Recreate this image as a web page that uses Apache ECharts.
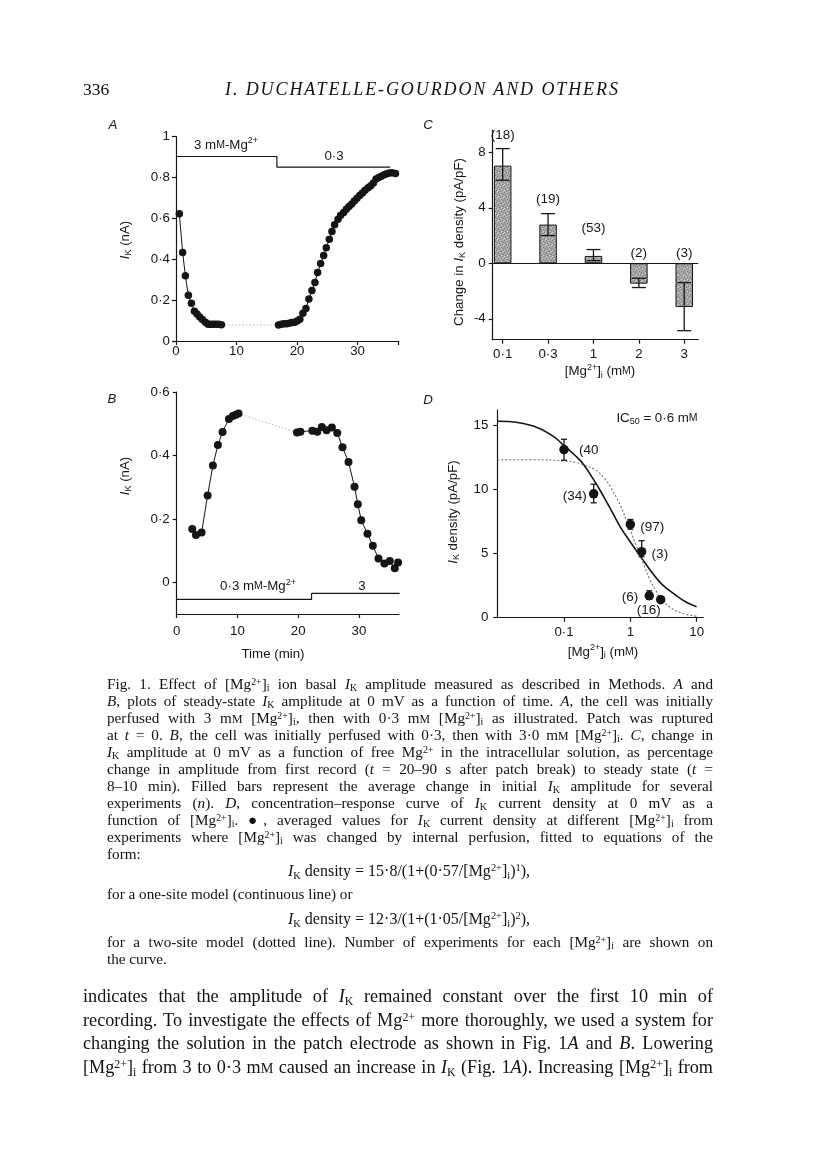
<!DOCTYPE html>
<html><head><meta charset="utf-8">
<script src="https://cdn.jsdelivr.net/npm/echarts/dist/echarts.min.js"></script>
<style>
html,body{margin:0;padding:0;background:#fff;}
body{width:816px;height:1166px;position:relative;overflow:hidden;}
#c{position:absolute;left:0;top:0;width:816px;height:1166px;}
.t{position:absolute;font-family:"Liberation Serif","Times New Roman",serif;color:#111;}
.cap{left:107px;width:606px;font-size:15.2px;line-height:17px;}
.eq{font-size:16px;}
.body{left:83px;width:630px;font-size:18.2px;line-height:23px;}
.j{text-align:justify;text-align-last:justify;}
sup,sub{font-size:65%;line-height:0;}
sup{vertical-align:0.45em;}
sub{vertical-align:-0.25em;}
.sc{font-size:78%;}
</style></head>
<body>
<div id="c"></div>
<div class="t" style="left:83px;top:78px;font-size:17.5px;line-height:22px;">336</div>
<div class="t" style="left:225px;top:78px;font-size:18px;line-height:22px;font-style:italic;letter-spacing:1.9px;">I. DUCHATELLE-GOURDON AND OTHERS</div>

<div class="t cap j" style="top:674.5px">Fig. 1. Effect of [Mg<sup>2+</sup>]<sub>i</sub> ion basal <i>I</i><sub>K</sub> amplitude measured as described in Methods. <i>A</i> and</div>
<div class="t cap j" style="top:691.5px"><i>B</i>, plots of steady-state <i>I</i><sub>K</sub> amplitude at 0 mV as a function of time. <i>A</i>, the cell was initially</div>
<div class="t cap j" style="top:708.5px">perfused with 3 m<span class="sc">M</span> [Mg<sup>2+</sup>]<sub>i</sub>, then with 0·3 m<span class="sc">M</span> [Mg<sup>2+</sup>]<sub>i</sub> as illustrated. Patch was ruptured</div>
<div class="t cap j" style="top:725.5px">at <i>t</i> = 0. <i>B</i>, the cell was initially perfused with 0·3, then with 3·0 m<span class="sc">M</span> [Mg<sup>2+</sup>]<sub>i</sub>. <i>C</i>, change in</div>
<div class="t cap j" style="top:742.5px"><i>I</i><sub>K</sub> amplitude at 0 mV as a function of free Mg<sup>2+</sup> in the intracellular solution, as percentage</div>
<div class="t cap j" style="top:759.5px">change in amplitude from first record (<i>t</i> = 20–90 s after patch break) to steady state (<i>t</i> =</div>
<div class="t cap j" style="top:776.5px">8–10 min). Filled bars represent the average change in initial <i>I</i><sub>K</sub> amplitude for several</div>
<div class="t cap j" style="top:793.5px">experiments (<i>n</i>). <i>D</i>, concentration–response curve of <i>I</i><sub>K</sub> current density at 0 mV as a</div>
<div class="t cap j" style="top:810.5px">function of [Mg<sup>2+</sup>]<sub>i</sub>. ●, averaged values for <i>I</i><sub>K</sub> current density at different [Mg<sup>2+</sup>]<sub>i</sub> from</div>
<div class="t cap j" style="top:827.5px">experiments where [Mg<sup>2+</sup>]<sub>i</sub> was changed by internal perfusion, fitted to equations of the</div>
<div class="t cap" style="top:844.5px">form:</div>
<div class="t cap eq" style="top:861.5px;left:288px;width:auto;white-space:nowrap"><i>I</i><sub>K</sub> density = 15·8/(1+(0·57/[Mg<sup>2+</sup>]<sub>i</sub>)<sup>1</sup>),</div>
<div class="t cap" style="top:884.5px">for a one-site model (continuous line) or</div>
<div class="t cap eq" style="top:909.5px;left:288px;width:auto;white-space:nowrap"><i>I</i><sub>K</sub> density = 12·3/(1+(1·05/[Mg<sup>2+</sup>]<sub>i</sub>)<sup>2</sup>),</div>
<div class="t cap j" style="top:932.5px">for a two-site model (dotted line). Number of experiments for each [Mg<sup>2+</sup>]<sub>i</sub> are shown on</div>
<div class="t cap" style="top:949.5px">the curve.</div>

<div class="t body j" style="top:984.5px">indicates that the amplitude of <i>I</i><sub>K</sub> remained constant over the first 10 min of</div>
<div class="t body j" style="top:1008.5px">recording. To investigate the effects of Mg<sup>2+</sup> more thoroughly, we used a system for</div>
<div class="t body j" style="top:1031.5px">changing the solution in the patch electrode as shown in Fig. 1<i>A</i> and <i>B</i>. Lowering</div>
<div class="t body j" style="top:1055.5px">[Mg<sup>2+</sup>]<sub>i</sub> from 3 to 0·3 m<span class="sc">M</span> caused an increase in <i>I</i><sub>K</sub> (Fig. 1<i>A</i>). Increasing [Mg<sup>2+</sup>]<sub>i</sub> from</div>

<script>
// ---------------- DATA ----------------
// Panel A: I_K (nA) vs time (min)
const aTime1 = [0.55,1.1,1.55,2.04,2.54,3.04,3.48,3.92,4.36,4.86,5.3,5.74,6.18,6.62,7.06,7.5];
const aIk1   = [0.623,0.433,0.319,0.224,0.185,0.146,0.132,0.118,0.105,0.092,0.082,0.082,0.082,0.082,0.082,0.079];
const aTime2 = [16.94,17.38,17.83,18.27,18.71,19.15,19.59,20.03,20.47,20.97,21.47,21.96,22.46,22.96,23.4,23.9,24.4,24.83,25.33,25.77,26.21,26.77,27.21,27.7,28.15,28.59,29.03,29.47,29.91,30.35,30.8,31.24,31.74,32.18,32.62,33.06,33.5,33.94,34.38,34.82,35.27,35.7,36.26];
const aIk2   = [0.078,0.082,0.084,0.085,0.087,0.090,0.092,0.098,0.106,0.136,0.159,0.206,0.247,0.286,0.335,0.379,0.418,0.457,0.498,0.536,0.569,0.596,0.616,0.629,0.645,0.658,0.670,0.685,0.699,0.712,0.724,0.738,0.750,0.760,0.773,0.793,0.800,0.807,0.814,0.819,0.822,0.824,0.820];
const aPerfTime = [0, 16.67, 16.67, 35.4];
const aPerfLevel = [0.903, 0.903, 0.851, 0.851];
const aTicksX = [0, 10, 20, 30];
const aTicksY = [0, 0.2, 0.4, 0.6, 0.8, 1];

// Panel B
const bTime1 = [2.56,3.17,4.1,5.09,5.96,6.78,7.55,8.59,9.24,9.74,10.18];
const bIk1   = [0.168,0.149,0.157,0.274,0.368,0.433,0.474,0.515,0.524,0.528,0.532];
const bTime2 = [19.8,20.36,22.33,23.15,23.9,24.68,25.55,26.43,27.3,28.29,29.28,29.82,30.38,31.41,32.29,33.22,34.2,35.08,35.9,36.45];
const bIk2   = [0.472,0.475,0.478,0.475,0.49,0.479,0.488,0.471,0.426,0.379,0.301,0.246,0.196,0.153,0.115,0.075,0.059,0.067,0.044,0.062];
const bPerfTime = [0, 22.2, 22.2, 36.7];
const bPerfLevel = [-0.054, -0.054, -0.035, -0.035];
const bTicksX = [0, 10, 20, 30];
const bTicksY = [0, 0.2, 0.4, 0.6];

// Panel C: change in I_K density vs [Mg2+]i
const cCategories = ['0·1', '0·3', '1', '2', '3'];
const cMean = [7.04, 2.79, 0.53, -1.47, -3.15];
const cErrLow = [5.99, 2.0, 0.19, -1.75, -4.86];
const cErrHigh = [8.27, 3.58, 0.99, -1.08, -1.39];
const cN = ['(18)', '(19)', '(53)', '(2)', '(3)'];
const cTicksY = [-4, 0, 4, 8];

// Panel D: I_K density vs [Mg2+]i (log)
const dMg = [0.1, 0.28, 1.0, 1.48, 1.93, 2.87];
const dDensity = [13.1, 9.65, 7.27, 5.14, 1.71, 1.40];
const dErrLow = [12.27, 8.95, 6.9, 4.75, 1.43, 1.40];
const dErrHigh = [13.9, 10.4, 7.65, 6.0, 2.1, 1.40];
const dN = ['(40', '(34)', '(97)', '(3)', '(6)', '(16)'];
const dOneSiteX = [0.0099, 0.02, 0.04, 0.07, 0.1, 0.15, 0.2, 0.3, 0.4, 0.5, 0.7, 1.0, 1.5, 2, 3, 5, 7, 10];
const dOneSiteY = [15.3, 15.2, 14.8, 14.1, 13.4, 12.6, 11.9, 10.5, 9.4, 8.5, 7.1, 5.9, 4.6, 3.7, 2.6, 1.7, 1.2, 0.85];
const dTwoSiteX = [0.0099, 0.05, 0.1, 0.15, 0.2, 0.3, 0.4, 0.5, 0.7, 1.0, 1.3, 1.6, 2, 2.5, 3, 4, 5, 7, 10];
const dTwoSiteY = [12.3, 12.3, 12.2, 12.1, 11.9, 11.5, 10.9, 10.2, 8.8, 6.8, 5.3, 4.1, 2.9, 2.0, 1.35, 0.8, 0.5, 0.25, 0.12];
const dTicksX = [0.1, 1, 10];
const dTicksY = [0, 5, 10, 15];

// ---------------- STYLE / LAYOUT ----------------
const SANS = '"Liberation Sans", Arial, Helvetica, sans-serif';
const INK = '#151515';
const zip = (a, b) => a.map((v, i) => [v, b[i]]);
const fmt = v => (+(+v).toFixed(3)).toString().replace('.', '·');
const cLabelOffset = [13.5, 14.6, 21.6, 10, 10];
const dLabelOffset = [[15, 1, 'left'], [-7, 2, 'right'], [10, 3, 'left'], [10, 3, 'left'], [-11, 2, 'right'], [-12, 11, 'center']];

const FS = 13.3;
const rich = {
  n: {fontFamily: SANS, fontSize: FS, fill: INK, color: INK, lineHeight: 17},
  it: {fontFamily: SANS, fontSize: FS, fontStyle: 'italic', fill: INK, color: INK, lineHeight: 17},
  sub: {fontFamily: SANS, fontSize: 9, fill: INK, color: INK, lineHeight: 8, verticalAlign: 'bottom'},
  sup: {fontFamily: SANS, fontSize: 9, fill: INK, color: INK, lineHeight: 8, verticalAlign: 'top'},
  sc: {fontFamily: SANS, fontSize: 10.5, fill: INK, color: INK, lineHeight: 17}
};
function T(x, y, text, rot, extra) {
  return Object.assign({type: 'text', x: x, y: y, rotation: rot || 0, silent: true,
    style: {text: text, rich: rich, align: 'center', verticalAlign: 'middle', fontFamily: SANS, fontSize: FS, fill: INK}}, extra || {});
}

function axis(base) {
  return Object.assign({
    axisLine: {show: true, onZero: false, lineStyle: {color: INK, width: 1.2}},
    axisTick: {show: true, length: 4, lineStyle: {color: INK, width: 1.2}},
    axisLabel: {color: INK, fontFamily: SANS, fontSize: FS, formatter: fmt},
    splitLine: {show: false}
  }, base);
}
function withCustom(ax, ticks, labels, margin, formatter) {
  ax.axisTick = Object.assign({}, ax.axisTick, {customValues: ticks});
  ax.axisLabel = Object.assign({}, ax.axisLabel, {customValues: labels || ticks});
  if (margin != null) ax.axisLabel.margin = margin;
  if (formatter) ax.axisLabel.formatter = formatter;
  return ax;
}

// stipple pattern for bars
const pc = document.createElement('canvas'); pc.width = 6; pc.height = 6;
const g = pc.getContext('2d');
g.fillStyle = '#a6a6a6'; g.fillRect(0, 0, 6, 6);
g.fillStyle = '#7c7c7c';
[[0,0],[3,1],[1,3],[4,4],[5,2],[2,5]].forEach(p => g.fillRect(p[0], p[1], 1, 1));
g.fillStyle = '#cfcfcf';
[[2,0],[5,5],[0,4],[3,3]].forEach(p => g.fillRect(p[0], p[1], 1, 1));

function errRender(cap) {
  return function (params, api) {
    const x = api.value(0), lo = api.value(1), hi = api.value(2);
    if (lo === hi) return {type: 'group', children: []};
    const a = api.coord([x, lo]), b = api.coord([x, hi]);
    const st = {stroke: INK, lineWidth: 1.3};
    return {type: 'group', children: [
      {type: 'line', shape: {x1: a[0], y1: a[1], x2: b[0], y2: b[1]}, style: st},
      {type: 'line', shape: {x1: b[0] - cap, y1: b[1], x2: b[0] + cap, y2: b[1]}, style: st},
      {type: 'line', shape: {x1: a[0] - cap, y1: a[1], x2: a[0] + cap, y2: a[1]}, style: st}
    ]};
  };
}

const dotLine = (xi, yi, data, extra) => Object.assign({
  type: 'line', xAxisIndex: xi, yAxisIndex: yi, data: data, symbol: 'circle', symbolSize: 7.5,
  itemStyle: {color: INK, opacity: 1}, lineStyle: {color: INK, width: 1}, silent: true, z: 5
}, extra || {});
const plainLine = (xi, yi, data, style, extra) => Object.assign({
  type: 'line', xAxisIndex: xi, yAxisIndex: yi, data: data, symbol: 'none', lineStyle: style, silent: true
}, extra || {});

const a1 = zip(aTime1, aIk1), a2 = zip(aTime2, aIk2);
const b1 = zip(bTime1, bIk1), b2 = zip(bTime2, bIk2);

const option = {
  animation: false,
  backgroundColor: '#fff',
  grid: [
    {left: 176, top: 136.7, width: 222.7, height: 204.3},
    {left: 176.7, top: 392, width: 222.3, height: 222},
    {left: 492.7, top: 130, width: 205.6, height: 209.7},
    {left: 497.3, top: 410, width: 206, height: 207.7}
  ],
  xAxis: [
    withCustom(axis({type: 'value', gridIndex: 0, min: 0, max: 36.8}), aTicksX.concat([36.8]), aTicksX, 4),
    withCustom(axis({type: 'value', gridIndex: 1, min: 0, max: 36.6}), bTicksX, bTicksX, 11),
    withCustom(axis({type: 'value', gridIndex: 2, min: -0.22, max: 4.31}), [0,1,2,3,4], [0,1,2,3,4], 8,
      v => cCategories[Math.round(v)]),
    withCustom(axis({type: 'log', logBase: 10, gridIndex: 3, min: 0.00986, max: 12.6}), dTicksX, dTicksX, 8)
  ],
  yAxis: [
    withCustom(axis({type: 'value', gridIndex: 0, min: 0, max: 1}), aTicksY, aTicksY, 6),
    withCustom(axis({type: 'value', gridIndex: 1, min: -0.1, max: 0.6}), bTicksY, bTicksY, 7),
    withCustom(axis({type: 'value', gridIndex: 2, min: -5.51, max: 9.61}), cTicksY, cTicksY, 7),
    withCustom(axis({type: 'value', gridIndex: 3, min: 0, max: 16.18}), dTicksY, dTicksY, 9)
  ],
  series: [
    // Panel A
    plainLine(0, 0, zip(aPerfTime, aPerfLevel), {color: INK, width: 1.2}),
    plainLine(0, 0, [a1[a1.length - 1], a2[0]], {color: '#b5b5b5', width: 1, type: [1.5, 2]}),
    dotLine(0, 0, a1),
    dotLine(0, 0, a2),
    // Panel B
    plainLine(1, 1, zip(bPerfTime, bPerfLevel), {color: INK, width: 1.2}),
    plainLine(1, 1, [b1[b1.length - 1], b2[0]], {color: '#b5b5b5', width: 1, type: [1.5, 2]}),
    dotLine(1, 1, b1, {symbolSize: 8}),
    dotLine(1, 1, b2, {symbolSize: 8}),
    // Panel C
    {
      type: 'bar', xAxisIndex: 2, yAxisIndex: 2, barWidth: 17.5, silent: true,
      data: cMean.map((v, i) => [i, v]),
      itemStyle: {color: {image: pc, repeat: 'repeat'}, borderColor: INK, borderWidth: 1},
      markLine: {silent: true, symbol: 'none', label: {show: false},
        lineStyle: {color: INK, width: 1, type: 'solid'}, data: [{yAxis: 0}]}
    },
    {
      type: 'custom', xAxisIndex: 2, yAxisIndex: 2, silent: true, z: 6,
      data: cMean.map((v, i) => [i, cErrLow[i], cErrHigh[i]]),
      renderItem: errRender(7)
    },
    {
      type: 'custom', xAxisIndex: 2, yAxisIndex: 2, silent: true, z: 6, clip: false,
      data: cMean.map((v, i) => [i, Math.max(cErrHigh[i], 0)]),
      renderItem: function (p, api) {
        const pt = api.coord([api.value(0), api.value(1)]);
        return {type: 'text', x: pt[0], y: pt[1] - cLabelOffset[p.dataIndex],
          style: {text: cN[p.dataIndex], fontFamily: SANS, fontSize: 13.5, fill: INK, align: 'center', verticalAlign: 'middle'}};
      }
    },
    // Panel D
    plainLine(3, 3, zip(dOneSiteX, dOneSiteY), {color: INK, width: 1.6}, {smooth: 0.4}),
    plainLine(3, 3, zip(dTwoSiteX, dTwoSiteY), {color: '#6e6e6e', width: 1.1, type: [2, 2]}, {smooth: 0.4}),
    {
      type: 'custom', xAxisIndex: 3, yAxisIndex: 3, silent: true, z: 6,
      data: dMg.map((v, i) => [v, dErrLow[i], dErrHigh[i]]),
      renderItem: errRender(3)
    },
    {
      type: 'scatter', xAxisIndex: 3, yAxisIndex: 3, silent: true, z: 7,
      data: zip(dMg, dDensity), symbol: 'circle', symbolSize: 9.5, itemStyle: {color: INK, opacity: 1}
    },
    {
      type: 'custom', xAxisIndex: 3, yAxisIndex: 3, silent: true, z: 7, clip: false,
      data: zip(dMg, dDensity),
      renderItem: function (p, api) {
        const pt = api.coord([api.value(0), api.value(1)]);
        const o = dLabelOffset[p.dataIndex];
        return {type: 'text', x: pt[0] + o[0], y: pt[1] + o[1],
          style: {text: dN[p.dataIndex], fontFamily: SANS, fontSize: 13.5, fill: INK, align: o[2], verticalAlign: 'middle'}};
      }
    }
  ],
  graphic: [
    T(113, 125, '{it|A}'), T(112, 399, '{it|B}'), T(428, 125, '{it|C}'), T(428, 400, '{it|D}'),
    T(125, 240, '{it|I}{sub|K}{n| (nA)}', Math.PI / 2),
    T(125, 476, '{it|I}{sub|K}{n| (nA)}', Math.PI / 2),
    T(459, 242, '{n|Change in }{it|I}{sub|K}{n| density (pA/pF)}', Math.PI / 2),
    T(453, 512, '{it|I}{sub|K}{n| density (pA/pF)}', Math.PI / 2),
    T(226, 145, '{n|3 m}{sc|M}{n|-Mg}{sup|2+}'),
    T(334, 156.5, '{n|0·3}'),
    T(258, 586.5, '{n|0·3 m}{sc|M}{n|-Mg}{sup|2+}'),
    T(362, 586, '{n|3}'),
    T(273, 654, '{n|Time (min)}'),
    T(600, 371.5, '{n|[Mg}{sup|2+}{n|]}{sub|i}{n| (m}{sc|M}{n|)}'),
    T(603, 652, '{n|[Mg}{sup|2+}{n|]}{sub|i}{n| (m}{sc|M}{n|)}'),
    T(657, 418, '{n|IC}{sub|50}{n| = 0·6 m}{sc|M}')
  ]
};

const chart = echarts.init(document.getElementById('c'), null, {renderer: 'canvas', width: 816, height: 1166});
chart.setOption(option);
</script>
</body></html>
